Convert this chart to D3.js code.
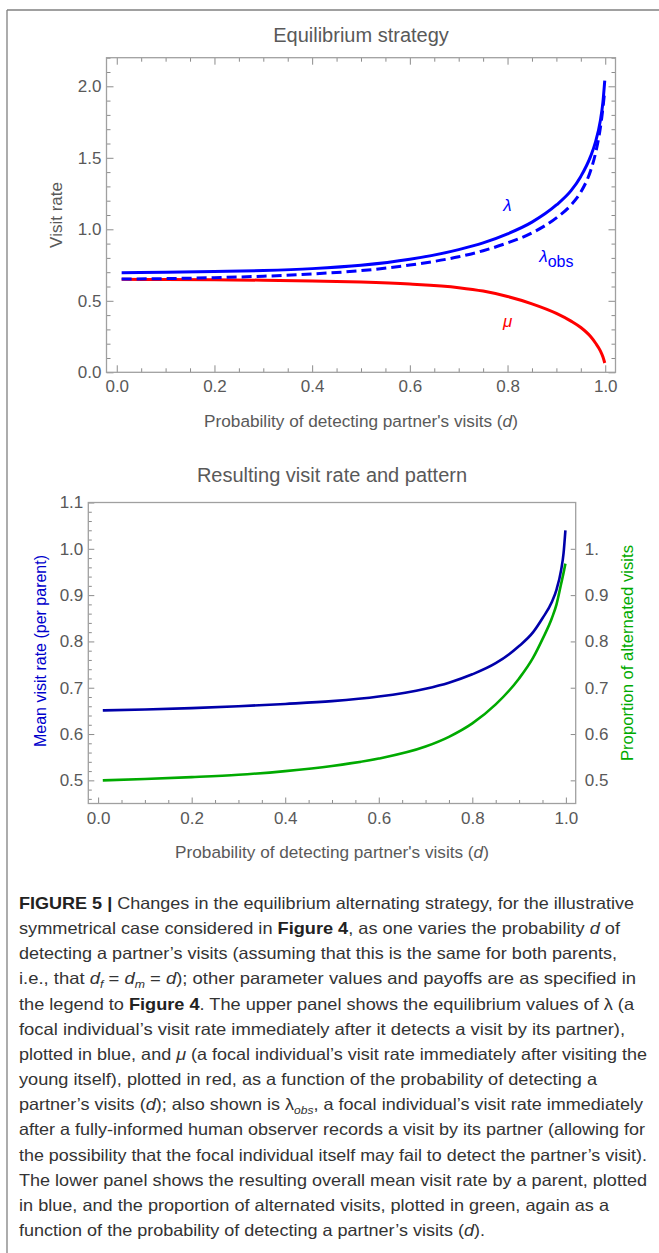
<!DOCTYPE html>
<html><head><meta charset="utf-8">
<script src="https://cdn.jsdelivr.net/npm/d3@7"></script>
<style>
body{margin:0;background:#fff;}
svg{display:block;font-family:"Liberation Sans",Arial,sans-serif;}
.tick text{fill:#595959;}
</style></head>
<body>
<svg id="c" width="659" height="1253"></svg>
<script>
// ---------- data ----------
const dValues = [0.01,0.1,0.2,0.3,0.4,0.5,0.6,0.7,0.75,0.8,0.85,0.9,0.93,0.95,0.97,0.98,0.99,0.995,0.999];
const lambdaValues = [0.697,0.700,0.705,0.712,0.725,0.748,0.790,0.858,0.905,0.968,1.050,1.170,1.270,1.370,1.510,1.610,1.760,1.880,2.040];
const lambdaObsValues = [0.652,0.655,0.662,0.672,0.688,0.711,0.750,0.808,0.850,0.905,0.975,1.080,1.170,1.260,1.410,1.530,1.710,1.840,1.970];
const muValues = [0.650,0.649,0.647,0.644,0.639,0.631,0.617,0.592,0.568,0.530,0.479,0.412,0.358,0.313,0.250,0.205,0.150,0.110,0.065];
const meanRateValues = [0.651,0.653,0.656,0.660,0.665,0.671,0.681,0.698,0.711,0.729,0.753,0.790,0.820,0.850,0.885,0.912,0.955,0.990,1.040];
const altPropValues = [0.500,0.503,0.507,0.512,0.520,0.531,0.547,0.573,0.594,0.623,0.664,0.720,0.765,0.805,0.850,0.880,0.925,0.948,0.968];
const xTickLabels = [0,0.2,0.4,0.6,0.8,1.0];
const topYTicks = [0,0.5,1.0,1.5,2.0];
const botYTicks = [0.5,0.6,0.7,0.8,0.9,1.0,1.1];
const rightYTicks = [0.5,0.6,0.7,0.8,0.9,1.0];

const svg = d3.select("#c");
const gray = "#8c8c8c";
const tickFont = 17;

// page border
svg.append("line").attr("x1",7).attr("y1",10).attr("x2",659).attr("y2",10).attr("stroke","#808080").attr("stroke-width",1.3);
svg.append("line").attr("x1",7).attr("y1",10).attr("x2",7).attr("y2",1253).attr("stroke","#808080").attr("stroke-width",1.3);

function range(a,b,s){const r=[];for(let v=a;v<=b+1e-9;v+=s){r.push(+v.toFixed(4));}return r;}
function minorOf(all, majors){return all.filter(v=>!majors.some(m=>Math.abs(m-v)<1e-6));}

function styleAxis(g){
  g.select(".domain").remove();
  g.selectAll(".tick line").attr("stroke",gray).attr("stroke-width",1);
  g.selectAll(".tick text").attr("fill","#5a5a5a");
}

// ---------- TOP PANEL ----------
const xT = d3.scaleLinear().domain([-0.021,1.021]).range([106.5,615.5]);
const yT = d3.scaleLinear().domain([0,2.2]).range([372.3,57.7]);
const topG = svg.append("g");

const xMinorT = minorOf(range(0,1,0.05), xTickLabels);
const yMinorT = minorOf(range(0,2.2,0.1), topYTicks);

topG.append("g").attr("transform",`translate(0,${yT(0)})`)
  .call(d3.axisBottom(xT).tickValues(xMinorT).tickSize(-4).tickFormat("")).call(styleAxis);
topG.append("g").attr("transform",`translate(0,${yT(0)})`)
  .call(d3.axisBottom(xT).tickValues(xTickLabels).tickSize(-7).tickPadding(8).tickFormat(d3.format(".1f")))
  .call(styleAxis).selectAll("text").attr("font-size",tickFont);
topG.append("g").attr("transform",`translate(0,${yT(2.2)})`)
  .call(d3.axisTop(xT).tickValues(xMinorT).tickSize(-4).tickFormat("")).call(styleAxis);
topG.append("g").attr("transform",`translate(0,${yT(2.2)})`)
  .call(d3.axisTop(xT).tickValues(xTickLabels).tickSize(-7).tickFormat("")).call(styleAxis);
topG.append("g").attr("transform",`translate(${xT(-0.021)},0)`)
  .call(d3.axisLeft(yT).tickValues(yMinorT).tickSize(-4).tickFormat("")).call(styleAxis);
topG.append("g").attr("transform",`translate(${xT(-0.021)},0)`)
  .call(d3.axisLeft(yT).tickValues(topYTicks).tickSize(-7).tickPadding(5).tickFormat(d3.format(".1f")))
  .call(styleAxis).selectAll("text").attr("font-size",tickFont);
topG.append("g").attr("transform",`translate(${xT(1.021)},0)`)
  .call(d3.axisRight(yT).tickValues(yMinorT).tickSize(-4).tickFormat("")).call(styleAxis);
topG.append("g").attr("transform",`translate(${xT(1.021)},0)`)
  .call(d3.axisRight(yT).tickValues(topYTicks).tickSize(-7).tickFormat("")).call(styleAxis);

topG.append("rect").attr("x",xT(-0.021)).attr("y",yT(2.2)).attr("width",xT(1.021)-xT(-0.021)).attr("height",yT(0)-yT(2.2))
  .attr("fill","none").attr("stroke","#a0a0a0").attr("stroke-width",1.3);

const lineT = ys => d3.line().x((d,i)=>xT(dValues[i])).y((d,i)=>yT(ys[i])).curve(d3.curveMonotoneX)(dValues);
topG.append("path").attr("d",lineT(muValues)).attr("fill","none").attr("stroke","#ff0000").attr("stroke-width",3);
topG.append("path").attr("d",lineT(lambdaObsValues)).attr("fill","none").attr("stroke","#0000ff").attr("stroke-width",3).attr("stroke-dasharray","10,5");
topG.append("path").attr("d",lineT(lambdaValues)).attr("fill","none").attr("stroke","#0000ff").attr("stroke-width",3);

topG.append("text").attr("x",xT(0.8)).attr("y",yT(1.13)).attr("text-anchor","middle").attr("font-size",17)
  .attr("font-style","italic").attr("fill","#0000ff").text("λ");
const lo = topG.append("text").attr("x",xT(0.865)).attr("y",yT(0.77)).attr("font-size",17).attr("fill","#0000ff");
lo.append("tspan").attr("font-style","italic").text("λ");
lo.append("tspan").attr("dy",5).attr("font-size",16).text("obs");
topG.append("text").attr("x",xT(0.8)).attr("y",yT(0.315)).attr("text-anchor","middle").attr("font-size",17)
  .attr("font-style","italic").attr("fill","#ff0000").text("μ");

topG.append("text").attr("x",361).attr("y",42).attr("text-anchor","middle").attr("font-size",20).attr("fill","#595959").text("Equilibrium strategy");
topG.append("text").attr("transform",`translate(62,${(yT(0)+yT(2.2))/2}) rotate(-90)`).attr("text-anchor","middle")
  .attr("font-size",17).attr("fill","#595959").text("Visit rate");
const xl1 = topG.append("text").attr("x",361).attr("y",427).attr("text-anchor","middle").attr("font-size",17.2).attr("fill","#595959");
xl1.append("tspan").text("Probability of detecting partner's visits (");
xl1.append("tspan").attr("font-style","italic").text("d");
xl1.append("tspan").text(")");

// ---------- BOTTOM PANEL ----------
const xB = d3.scaleLinear().domain([-0.021,1.021]).range([88.3,575.7]);
const yB = d3.scaleLinear().domain([0.45,1.1]).range([803.5,502.5]);
const botG = svg.append("g");

const yMinorB = minorOf(range(0.46,1.08,0.02), botYTicks);

botG.append("g").attr("transform",`translate(0,${yB(0.45)})`)
  .call(d3.axisBottom(xB).tickValues(xMinorT).tickSize(-3.5).tickFormat("")).call(styleAxis);
botG.append("g").attr("transform",`translate(0,${yB(0.45)})`)
  .call(d3.axisBottom(xB).tickValues(xTickLabels).tickSize(-6).tickPadding(8).tickFormat(d3.format(".1f")))
  .call(styleAxis).selectAll("text").attr("font-size",tickFont);
botG.append("g").attr("transform",`translate(${xB(-0.021)},0)`)
  .call(d3.axisLeft(yB).tickValues(yMinorB).tickSize(-3.5).tickFormat("")).call(styleAxis);
botG.append("g").attr("transform",`translate(${xB(-0.021)},0)`)
  .call(d3.axisLeft(yB).tickValues(botYTicks).tickSize(-6).tickPadding(5).tickFormat(d3.format(".1f")))
  .call(styleAxis).selectAll("text").attr("font-size",tickFont);
botG.append("g").attr("transform",`translate(${xB(1.021)},0)`)
  .call(d3.axisRight(yB).tickValues(rightYTicks).tickSize(-5).tickPadding(9).tickFormat(v => v===1 ? "1." : d3.format(".1f")(v)))
  .call(styleAxis).selectAll("text").attr("font-size",tickFont);

botG.append("rect").attr("x",xB(-0.021)).attr("y",yB(1.1)).attr("width",xB(1.021)-xB(-0.021)).attr("height",yB(0.45)-yB(1.1))
  .attr("fill","none").attr("stroke","#a0a0a0").attr("stroke-width",1.3);

const lineB = ys => d3.line().x((d,i)=>xB(dValues[i])).y((d,i)=>yB(ys[i])).curve(d3.curveMonotoneX)(dValues);
botG.append("path").attr("d",lineB(altPropValues)).attr("fill","none").attr("stroke","#00aa00").attr("stroke-width",2.6);
botG.append("path").attr("d",lineB(meanRateValues)).attr("fill","none").attr("stroke","#0000aa").attr("stroke-width",2.6);

botG.append("text").attr("x",332).attr("y",482).attr("text-anchor","middle").attr("font-size",20).attr("fill","#595959").text("Resulting visit rate and pattern");
botG.append("text").attr("transform",`translate(46,651) rotate(-90)`).attr("text-anchor","middle")
  .attr("font-size",16).attr("fill","#0000cc").text("Mean visit rate (per parent)");
botG.append("text").attr("transform",`translate(633,653) rotate(-90)`).attr("text-anchor","middle")
  .attr("font-size",16.7).attr("fill","#00aa00").text("Proportion of alternated visits");
const xl2 = botG.append("text").attr("x",332).attr("y",858).attr("text-anchor","middle").attr("font-size",17.2).attr("fill","#595959");
xl2.append("tspan").text("Probability of detecting partner's visits (");
xl2.append("tspan").attr("font-style","italic").text("d");
xl2.append("tspan").text(")");

// ---------- CAPTION ----------
const captionLines = [
  [["b","FIGURE 5 | "],["n","Changes in the equilibrium alternating strategy, for the illustrative"]],
  [["n","symmetrical case considered in "],["b","Figure 4"],["n",", as one varies the probability "],["i","d"],["n"," of"]],
  [["n","detecting a partner’s visits (assuming that this is the same for both parents,"]],
  [["n","i.e., that "],["i","d"],["sub","f"],["n"," = "],["i","d"],["sub","m"],["n"," = "],["i","d"],["n","); other parameter values and payoffs are as specified in"]],
  [["n","the legend to "],["b","Figure 4"],["n",". The upper panel shows the equilibrium values of λ (a"]],
  [["n","focal individual’s visit rate immediately after it detects a visit by its partner),"]],
  [["n","plotted in blue, and "],["i","μ"],["n"," (a focal individual’s visit rate immediately after visiting the"]],
  [["n","young itself), plotted in red, as a function of the probability of detecting a"]],
  [["n","partner’s visits ("],["i","d"],["n","); also shown is λ"],["sub","obs"],["n",", a focal individual’s visit rate immediately"]],
  [["n","after a fully-informed human observer records a visit by its partner (allowing for"]],
  [["n","the possibility that the focal individual itself may fail to detect the partner’s visit)."]],
  [["n","The lower panel shows the resulting overall mean visit rate by a parent, plotted"]],
  [["n","in blue, and the proportion of alternated visits, plotted in green, again as a"]],
  [["n","function of the probability of detecting a partner’s visits ("],["i","d"],["n",")."]]
];
const captionWidths = [615,601,598,617,615,606,628,578,624,626,628,628,590,466];

const cap = svg.append("g");
captionLines.forEach((segs,li)=>{
  const t = cap.append("text").attr("x",19).attr("y",909 + li*25.15).attr("font-size",16.5).attr("fill","#333")
    .attr("textLength",captionWidths[li]).attr("lengthAdjust","spacingAndGlyphs");
  let shifted = false;
  segs.forEach(([k,s])=>{
    const ts = t.append("tspan").text(s);
    if(k==="b") ts.attr("font-weight","bold").attr("fill","#222");
    if(k==="i") ts.attr("font-style","italic");
    if(k==="sub"){ ts.attr("font-size",11).attr("font-style","italic").attr("dy",4); shifted=true; }
    else if(shifted){ ts.attr("dy",-4); shifted=false; }
  });
});
</script>
</body></html>
